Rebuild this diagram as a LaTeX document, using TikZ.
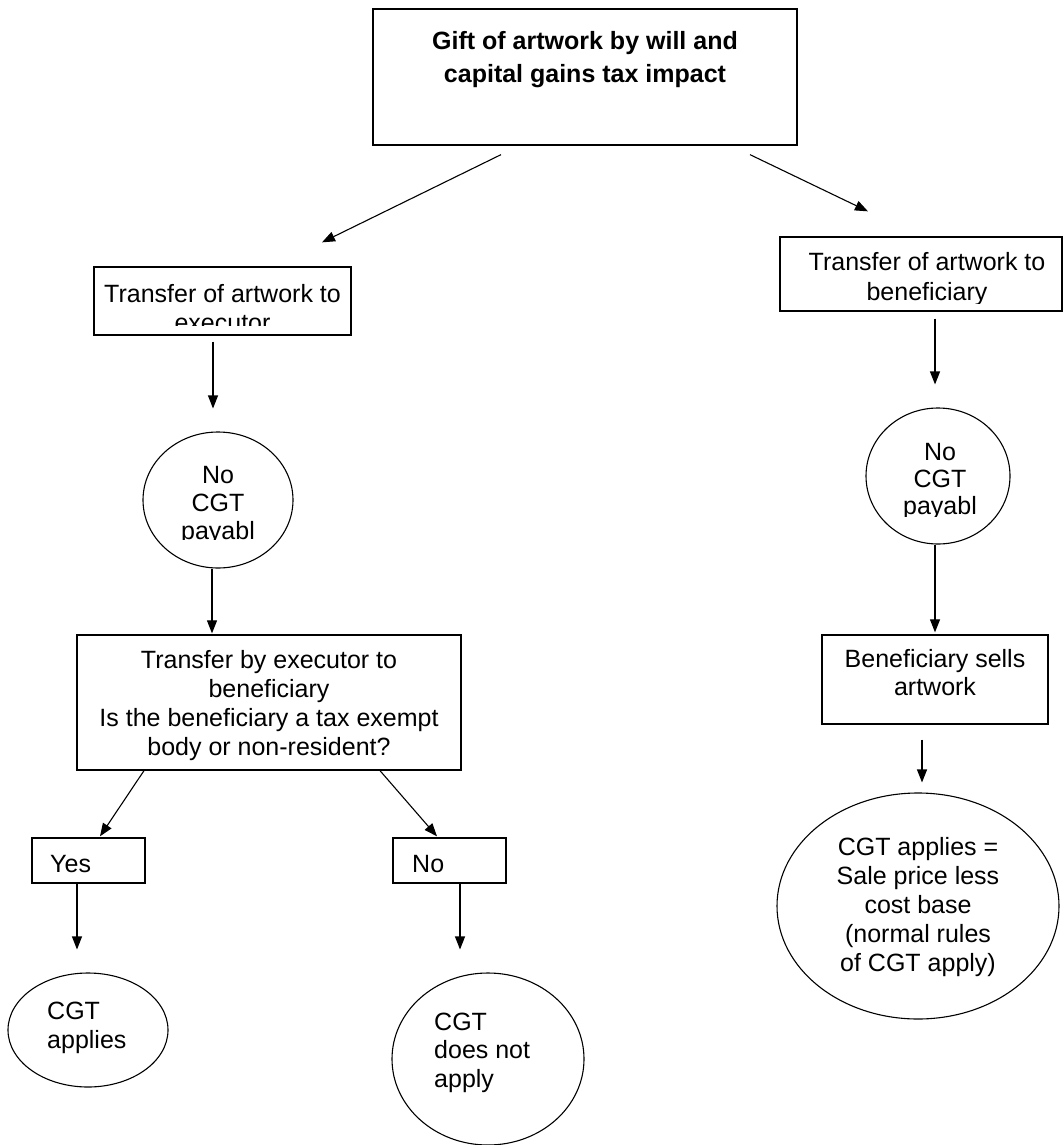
\documentclass[tikz,border=0pt]{standalone}
\usepackage{fontspec}
\setmainfont{Liberation Sans}
\usetikzlibrary{arrows.meta,shapes.geometric}
\tikzset{
  boxn/.style={draw, line width=1.3pt, rectangle, inner sep=0pt},
  elln/.style={draw, line width=1.1pt, ellipse, inner sep=0pt},
  arr/.style={line width=1.1pt, -{Triangle[length=13pt,width=10pt]}},
  txt/.style={inner sep=0pt, anchor=base, font=\fontsize{25}{29}\selectfont},
}
\begin{document}
\begin{tikzpicture}[x=1pt,y=-1pt]
\useasboundingbox (0,0) rectangle (1063,1145);
% title
\node[boxn, minimum width=424pt, minimum height=136pt] (t) at (585,77) {};
\node[txt, font=\fontsize{25}{33}\selectfont\bfseries] (tt) at (585,50)
  {\parbox[t]{420pt}{\centering Gift of artwork by will and\\capital gains tax impact}};
% left branch
\node[boxn, minimum width=257pt, minimum height=68pt] (lb) at (222.5,301) {};
\begin{scope}
\clip (96,269) rectangle (349,325);
\node[txt] (lbt) at (222.5,302) {\parbox[t]{257pt}{\centering Transfer of artwork to\\executor}};
\end{scope}
\node[elln, minimum width=150pt, minimum height=136pt] (le) at (218,500) {};
\begin{scope}
\clip (150,440) rectangle (290,539);
\node[txt, font=\fontsize{25}{28}\selectfont] (let) at (218,483) {\parbox[t]{140pt}{\centering No\\CGT\\payabl}};
\end{scope}
\node[boxn, minimum width=384pt, minimum height=135pt] (mb) at (269,702.5) {};
\node[txt] (mbt) at (269,668) {\parbox[t]{384pt}{\centering Transfer by executor to\\beneficiary\\Is the beneficiary a tax exempt\\body or non-resident?}};
\node[boxn, minimum width=113pt, minimum height=45pt] (yb) at (88.5,860.5) {};
\node[txt, anchor=base west] (ybt) at (50,872) {Yes};
\node[boxn, minimum width=113pt, minimum height=45pt] (nb) at (449.5,860.5) {};
\node[txt, anchor=base west] (nbt) at (412,872) {No};
\node[elln, minimum width=160pt, minimum height=114pt] (ye) at (88,1030) {};
\node[txt, anchor=base west] (yet) at (47,1019) {\parbox[t]{120pt}{\raggedright CGT\\applies}};
\node[elln, minimum width=192pt, minimum height=172pt] (ne) at (488,1059) {};
\node[txt, anchor=base west, font=\fontsize{25}{28.5}\selectfont] (net) at (434,1030) {\parbox[t]{140pt}{\raggedright CGT\\does not\\apply}};
% right branch
\node[boxn, minimum width=282pt, minimum height=74pt] (rb) at (921,274) {};
\begin{scope}
\clip (782,239) rectangle (1060,303);
\node[txt, font=\fontsize{25}{30}\selectfont] (rbt) at (927,270) {\parbox[t]{282pt}{\centering Transfer of artwork to\\beneficiary}};
\end{scope}
\node[elln, minimum width=144pt, minimum height=136pt] (re) at (938,476) {};
\begin{scope}
\clip (870,420) rectangle (1006,516);
\node[txt, font=\fontsize{25}{27}\selectfont] (ret) at (940,460) {\parbox[t]{140pt}{\centering No\\CGT\\payabl}};
\end{scope}
\node[boxn, minimum width=226pt, minimum height=89pt] (bs) at (935,679.5) {};
\node[txt, font=\fontsize{25}{28}\selectfont] (bst) at (935,667) {\parbox[t]{226pt}{\centering Beneficiary sells\\artwork}};
\node[elln, minimum width=282pt, minimum height=226pt] (be) at (918,906) {};
\node[txt] (bet) at (918,855) {\parbox[t]{260pt}{\centering CGT applies =\\Sale price less\\cost base\\(normal rules\\of CGT apply)}};
% connectors
\draw[arr] ([xshift=-84pt,yshift=-9pt]t.south) -- ([xshift=99.5pt,yshift=24pt]lb.north);
\draw[arr] ([xshift=165pt,yshift=-9pt]t.south) -- ([xshift=-53pt,yshift=25pt]rb.north);
\draw[arr] ([xshift=-9.5pt,yshift=-6pt]lb.south) -- ([xshift=-5pt,yshift=23pt]le.north);
\draw[arr] ([xshift=-6pt]le.south) -- ([xshift=-57pt,yshift=1pt]mb.north);
\draw[arr] ([xshift=-125pt]mb.south) -- ([xshift=11.5pt,yshift=1pt]yb.north);
\draw[arr] ([xshift=111pt]mb.south) -- ([xshift=-12.5pt,yshift=1pt]nb.north);
\draw[arr] ([xshift=-11.5pt]yb.south) -- ([xshift=-11pt,yshift=23pt]ye.north);
\draw[arr] ([xshift=10.5pt]nb.south) -- ([xshift=-28pt,yshift=23pt]ne.north);
\draw[arr] ([xshift=14pt,yshift=-7pt]rb.south) -- ([xshift=-3pt,yshift=23pt]re.north);
\draw[arr] ([xshift=-3pt]re.south) -- ([yshift=2pt]bs.north);
\draw[arr] ([xshift=-13pt,yshift=-15pt]bs.south) -- ([xshift=4pt,yshift=10pt]be.north);
\end{tikzpicture}
\end{document}
